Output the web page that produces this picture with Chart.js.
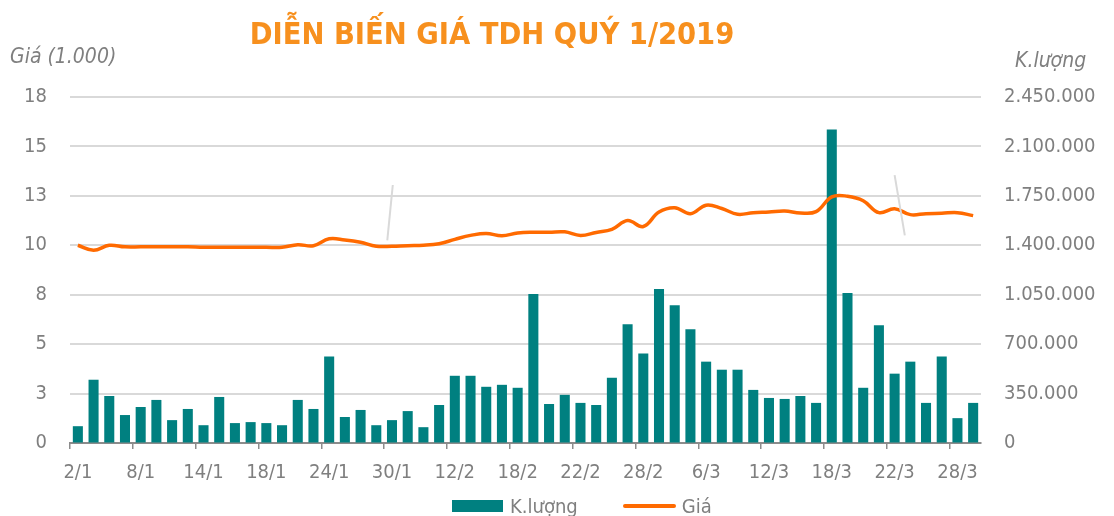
<!DOCTYPE html>
<html lang="vi">
<head>
<meta charset="utf-8">
<title>Diễn biến giá TDH quý 1/2019</title>
<script src="https://cdn.jsdelivr.net/npm/chart.js@4/dist/chart.umd.min.js"></script>
<style>
  html, body { margin: 0; padding: 0; background: #fff; }
  .khung { position: relative; width: 1114px; height: 516px; overflow: hidden; font-family: 'DejaVu Sans Condensed', 'DejaVu Sans', sans-serif; font-stretch: condensed; }
  #bieuDo { position: absolute; left: 0; top: 0; }
  .tieu-de { position: absolute; left: 0; width: 984px; top: 16px; text-align: center; color: #F7901E; font-weight: bold; font-size: 30.5px; }
  .ten-truc { position: absolute; color: #7F7F7F; font-style: italic; font-size: 21px; }
  .chu-giai { position: absolute; top: 494px; left: 452px; display: flex; align-items: center; color: #7F7F7F; font-size: 20px; white-space: nowrap; }
  .chu-giai .o-cot { width: 51px; height: 12px; background: #008080; margin-right: 7px; }
  .chu-giai .o-duong { width: 53px; height: 4px; background: #FF6A00; border-radius: 2px; margin: 0 6px 0 45px; }
</style>
</head>
<body>
<div class="khung">
  <canvas id="bieuDo" width="1114" height="516"></canvas>
  <div class="tieu-de">DIỄN BIẾN GIÁ TDH QUÝ 1/2019</div>
  <div class="ten-truc" style="left:10px; top:44px;">Giá (1.000)</div>
  <div class="ten-truc" style="left:1015px; top:48px;">K.lượng</div>
  <div class="chu-giai">
    <span class="o-cot"></span><span>K.lượng</span>
    <span class="o-duong"></span><span>Giá</span>
  </div>
</div>

<script>
/* DỮ LIỆU: ngày giao dịch quý 1/2019 */
const ngay = [
  '2/1', '3/1', '4/1', '7/1', '8/1', '9/1', '10/1', '11/1', '14/1', '15/1',
  '16/1', '17/1', '18/1', '21/1', '22/1', '23/1', '24/1', '25/1', '28/1', '29/1',
  '30/1', '31/1', '1/2', '11/2', '12/2', '13/2', '14/2', '15/2', '18/2', '19/2',
  '20/2', '21/2', '22/2', '25/2', '26/2', '27/2', '28/2', '1/3', '4/3', '5/3',
  '6/3', '7/3', '8/3', '11/3', '12/3', '13/3', '14/3', '15/3', '18/3', '19/3',
  '20/3', '21/3', '22/3', '25/3', '26/3', '27/3', '28/3', '29/3',
];

/* Khối lượng khớp lệnh (cổ phiếu) */
const khoiLuong = [
  119000, 448000, 333000, 198000, 255000, 305000, 162000, 241000, 126000, 326000,
  141000, 148000, 141000, 126000, 305000, 241000, 612000, 184000, 234000, 126000,
  162000, 226000, 112000, 269000, 476000, 476000, 398000, 412000, 391000, 1055000,
  276000, 341000, 284000, 269000, 462000, 841000, 634000, 1091000, 976000, 805000,
  576000, 519000, 519000, 376000, 319000, 312000, 333000, 284000, 2219000, 1062000,
  391000, 834000, 491000, 576000, 284000, 612000, 176000, 284000,
];

/* Giá đóng cửa (nghìn đồng) */
const gia = [
  10.0, 9.75, 10.0, 9.92, 9.92, 9.92, 9.92, 9.92, 9.9, 9.9,
  9.9, 9.9, 9.9, 9.9, 10.03, 9.98, 10.33, 10.27, 10.15, 9.95,
  9.95, 9.98, 10.0, 10.08, 10.3, 10.5, 10.6, 10.48, 10.62, 10.66,
  10.66, 10.68, 10.5, 10.65, 10.8, 11.25, 10.95, 11.68, 11.9, 11.6,
  12.03, 11.86, 11.57, 11.65, 11.68, 11.73, 11.63, 11.7, 12.45, 12.48,
  12.25, 11.65, 11.85, 11.55, 11.6, 11.62, 11.65, 11.5,
];

/* Vạch trang trí: [vị trí danh mục trên, dưới, giá trên, giá dưới] */
const vachNgat = [
  [20.05, 19.7, 13.05, 10.25],
  [52.0, 52.65, 13.55, 10.5],
];

const mauChu = '#7F7F7F';
const mauLuoi = '#D9D9D9';

/* Định dạng số kiểu 1.400.000 */
function dinhDang(v) {
  return String(v).replace(/\B(?=(\d{3})+(?!\d))/g, '.');
}

/* Plugin vẽ các vạch xiên */
const pluginVach = {
  id: 'vachNgat',
  afterDatasetsDraw(chart) {
    const { ctx, scales } = chart;
    ctx.save();
    ctx.strokeStyle = mauLuoi;
    ctx.lineWidth = 2;
    vachNgat.forEach(v => {
      ctx.beginPath();
      ctx.moveTo(scales.x.getPixelForValue(v[0]), scales.y.getPixelForValue(v[2]));
      ctx.lineTo(scales.x.getPixelForValue(v[1]), scales.y.getPixelForValue(v[3]));
      ctx.stroke();
    });
    ctx.restore();
  },
};

const fontTruc = { family: "'DejaVu Sans Condensed', 'DejaVu Sans', sans-serif", size: 20 };

new Chart(document.getElementById('bieuDo'), {
  type: 'bar',
  data: {
    labels: ngay,
    datasets: [
      {
        type: 'line',
        label: 'Giá',
        data: gia,
        yAxisID: 'y',
        borderColor: '#FF6A00',
        borderWidth: 3.5,
        tension: 0.4,
        pointRadius: 0,
        fill: false,
        order: 0,
      },
      {
        type: 'bar',
        label: 'K.lượng',
        data: khoiLuong,
        yAxisID: 'y1',
        backgroundColor: '#008080',
        barPercentage: 0.64,
        categoryPercentage: 1,
        order: 1,
      },
    ],
  },
  options: {
    responsive: false,
    animation: false,
    layout: { padding: { top: 97, bottom: 19, left: 0, right: 0 } },
    plugins: {
      legend: { display: false },
      tooltip: { enabled: false },
    },
    scales: {
      x: {
        offset: true,
        grid: {
          offset: true,
          drawOnChartArea: false,
          drawTicks: true,
          tickLength: 6,
          lineWidth: 1.5,
          color: c => (c.index !== undefined && c.index % 4 === 0 ? '#8C8C8C' : 'transparent'),
        },
        border: { display: true, color: '#8C8C8C', width: 2 },
        ticks: {
          autoSkip: false,
          maxRotation: 0,
          padding: 12,
          color: mauChu,
          font: fontTruc,
          callback: (v, i) => (i % 4 === 0 ? ngay[i] : ''),
        },
      },
      y: {
        position: 'left',
        min: 0,
        max: 17.5,
        afterFit: s => { s.width = 70; },
        grid: { color: mauLuoi, lineWidth: 2, drawTicks: false },
        border: { display: false },
        ticks: {
          stepSize: 2.5,
          padding: 23,
          color: mauChu,
          font: fontTruc,
          callback: v => Math.round(v),
        },
      },
      y1: {
        position: 'right',
        min: 0,
        max: 2450000,
        afterFit: s => { s.width = 133; },
        grid: { drawOnChartArea: false, drawTicks: false },
        border: { display: false },
        ticks: {
          stepSize: 350000,
          padding: 23,
          color: mauChu,
          font: fontTruc,
          callback: v => dinhDang(v),
        },
      },
    },
  },
  plugins: [pluginVach],
});
</script>
</body>
</html>
